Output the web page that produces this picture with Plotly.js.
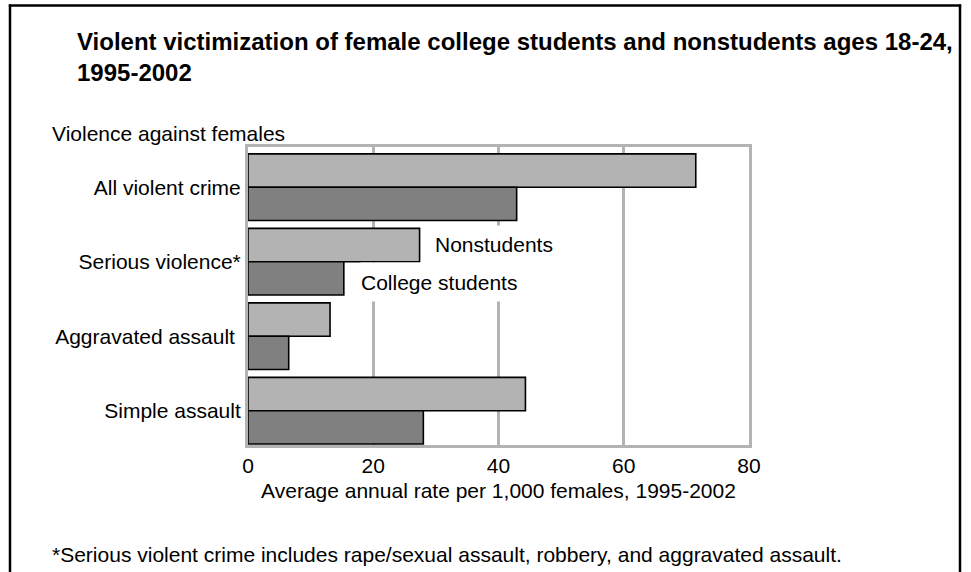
<!DOCTYPE html>
<html>
<head>
<meta charset="utf-8">
<script src="https://cdn.plot.ly/plotly-3.0.1.min.js"></script>
<style>
  html, body { margin: 0; padding: 0; background: #fff; overflow: hidden; }
  #chart { width: 971px; height: 572px; }
</style>
</head>
<body>
<div id="chart"></div>
<script>
// ---- data ----
const categories = ["All violent crime", "Serious violence*", "Aggravated assault\u00a0", "Simple assault"];
const nonstudents = [71.5, 27.4, 13.1, 44.3];
const collegeStudents = [42.9, 15.3, 6.5, 28.0];
const seriesNames = ["Nonstudents", "College students"];
const xTicks = [0, 20, 40, 60, 80];

const titleText = "<b>Violent victimization of female college students and nonstudents ages 18-24,<br>1995-2002</b>";
const yHeader = "Violence against females";
const xTitle = "Average annual rate per 1,000 females, 1995-2002";
const footnote = "*Serious violent crime includes rape/sexual assault, robbery, and aggravated assault.";

// ---- layout geometry ----
const W = 971, H = 572;
const M = { l: 248, r: 222, t: 147, b: 127 };
const PW = W - M.l - M.r, PH = H - M.t - M.b;
const px2x = p => (p - M.l) / PW;
const px2y = p => 1 - (p - M.t) / PH;
const FONT = "Liberation Sans, Arial, Helvetica, sans-serif";
const FS = 21;

const traces = [
  {
    type: "bar", orientation: "h", name: seriesNames[0],
    y: categories, x: nonstudents,
    marker: { color: "#b3b3b3", line: { color: "#000", width: 1.6 } },
    hoverinfo: "x+name"
  },
  {
    type: "bar", orientation: "h", name: seriesNames[1],
    y: categories, x: collegeStudents,
    marker: { color: "#808080", line: { color: "#000", width: 1.6 } },
    hoverinfo: "x+name"
  }
];

const frameLine = { color: "#000", width: 2.5 };

const layout = {
  width: W, height: H,
  margin: M,
  paper_bgcolor: "#fff", plot_bgcolor: "#fff",
  showlegend: false,
  barmode: "group", bargap: 0.105, bargroupgap: 0,
  font: { family: FONT, size: FS, color: "#000" },
  title: {
    text: titleText,
    xref: "container", yref: "container",
    x: 77 / W, xanchor: "left",
    y: 1 - 50 / H, yanchor: "top",
    font: { family: FONT, size: 24, color: "#000" }
  },
  xaxis: {
    range: [0, 80], tickvals: xTicks, ticktext: xTicks.map(String),
    showgrid: true, gridcolor: "#b3b3b3", gridwidth: 3,
    zeroline: false, showline: true, mirror: true, linecolor: "#b3b3b3", linewidth: 3,
    ticks: "", tickfont: { size: FS },
    title: { text: xTitle, font: { size: FS }, standoff: 8 }
  },
  yaxis: {
    type: "category", range: [3.46, -0.54],
    showgrid: false, zeroline: false,
    showline: true, mirror: true, linecolor: "#b3b3b3", linewidth: 3,
    ticks: "", tickfont: { size: FS }
  },
  shapes: [
    { type: "line", xref: "paper", yref: "paper", x0: px2x(10), x1: px2x(10), y0: px2y(4.5), y1: px2y(600), line: frameLine },
    { type: "line", xref: "paper", yref: "paper", x0: px2x(960), x1: px2x(960), y0: px2y(4.5), y1: px2y(600), line: frameLine },
    { type: "line", xref: "paper", yref: "paper", x0: px2x(8.8), x1: px2x(961.2), y0: px2y(5.5), y1: px2y(5.5), line: frameLine }
  ],
  annotations: [
    { text: yHeader, xref: "paper", yref: "paper", x: px2x(50), y: px2y(133),
      xanchor: "left", yanchor: "middle", showarrow: false, font: { size: FS } },
    { text: footnote, xref: "paper", yref: "paper", x: px2x(50), y: px2y(554),
      xanchor: "left", yanchor: "middle", showarrow: false, font: { size: FS } },
    { text: seriesNames[0], xref: "paper", yref: "paper", x: px2x(434), y: px2y(225),
      xanchor: "left", yanchor: "top", showarrow: false, font: { size: FS },
      width: 127, height: 37, align: "left", valign: "middle", bgcolor: "#fff", borderpad: 0 },
    { text: seriesNames[1], xref: "paper", yref: "paper", x: px2x(360), y: px2y(262),
      xanchor: "left", yanchor: "top", showarrow: false, font: { size: FS },
      width: 166, height: 38, align: "left", valign: "middle", bgcolor: "#fff", borderpad: 0 }
  ]
};

Plotly.newPlot("chart", traces, layout, { displayModeBar: false, staticPlot: true });
</script>
</body>
</html>
